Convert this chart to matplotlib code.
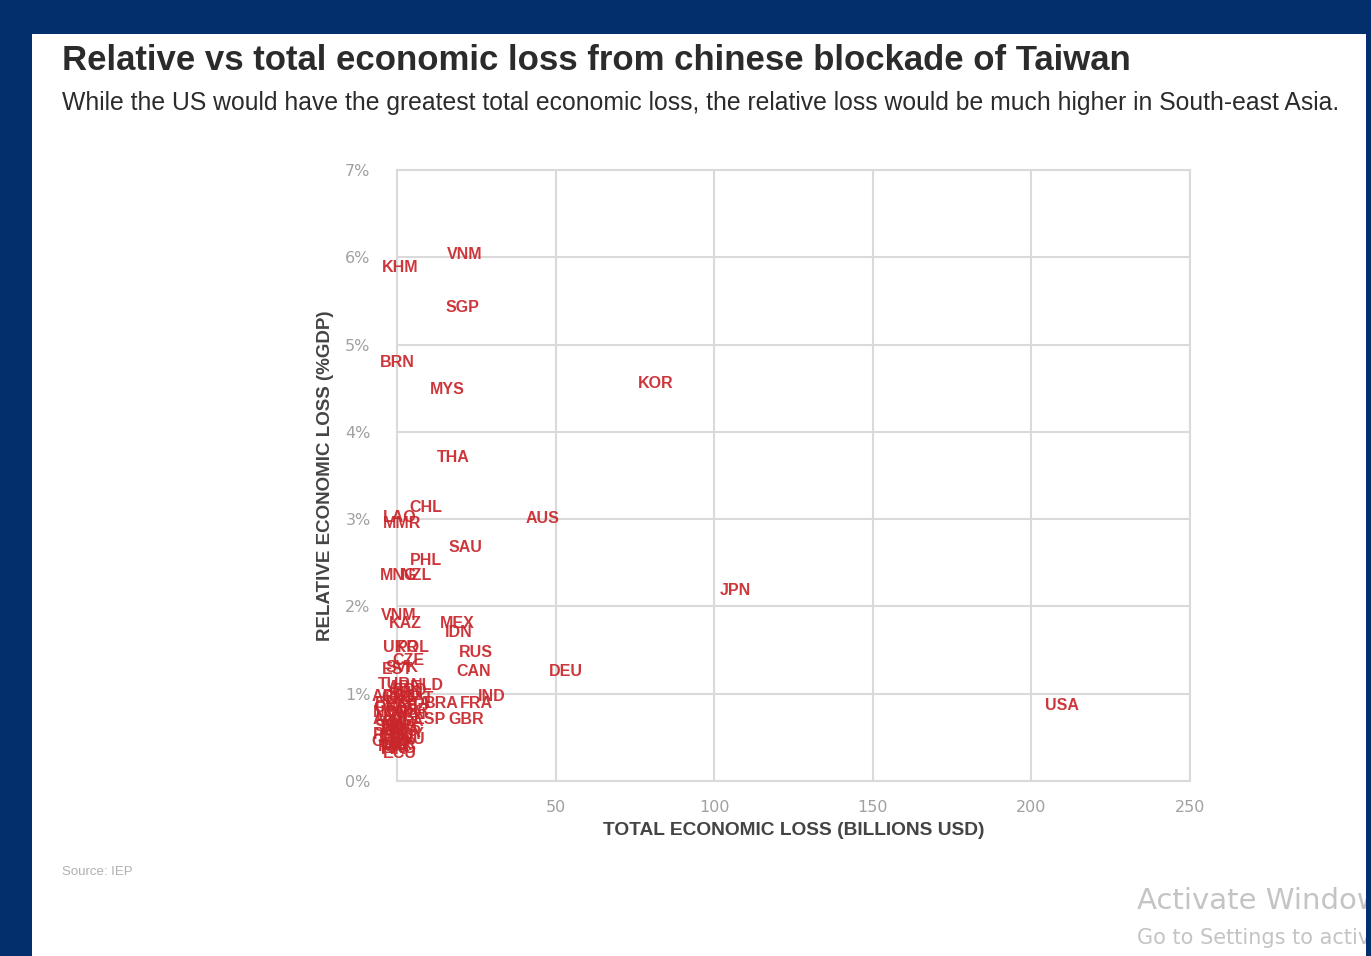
import matplotlib.pyplot as plt
from matplotlib.patches import Rectangle
from matplotlib.ticker import FuncFormatter

# datos (codigo de pais, perdida total en mil millones USD, perdida relativa en %PIB)
paises = ["KHM", "VNM", "SGP", "BRN", "MYS", "KOR", "THA", "CHL", "LAO", "MMR",
          "AUS", "SAU", "PHL", "MNG", "NZL", "JPN", "VNM", "KAZ", "MEX", "IDN",
          "UKR", "POL", "RUS", "CZE", "EST", "SVK", "CAN", "DEU", "TUR", "ARE",
          "NLD", "ARG", "CHE", "HUN", "IND", "BEL", "ZAF", "BRA", "FRA", "USA",
          "NOR", "DNK", "ISR", "AUT", "ESP", "GBR", "SWE", "IRL", "PRT", "COL",
          "EGY", "GRC", "PER", "ROU", "FIN", "HKG", "PAK", "ITA",
          "BGD", "QAT", "KWT", "OMN", "IRN", "IRQ", "DZA", "NGA", "LKA", "SVN",
          "LUX", "BLR", "URY", "ECU"]
perdida_total = [1.0, 21.5, 20.5, 0.0, 15.8, 81.4, 17.7, 9.1, 1.0, 1.5,
                 46.0, 21.5, 9.1, 0.5, 6.0, 106.6, 0.5, 2.5, 19.0, 19.5,
                 1.0, 5.0, 25.0, 3.5, 0.0, 1.5, 24.3, 53.3, -1.0, 2.5,
                 9.5, -2.5, 0.5, 3.0, 30.0, -2.0, 1.5, 14.0, 25.0, 209.5,
                 -2.0, 2.0, 6.0, -2.5, 10.5, 21.8, 0.5, -1.0, -2.5, 0.0,
                 3.5, -2.5, 1.0, 3.5, -1.0, 0.5, -1.0, 7.0,
                 4.0, 6.5, 1.0, -1.5, 5.0, 2.0, -0.5, 3.0, 1.5, -2.0,
                 0.0, 2.5, -1.5, 1.0]
perdida_relativa = [5.88, 6.03, 5.43, 4.79, 4.49, 4.55, 3.71, 3.13, 3.02, 2.95,
                    3.01, 2.68, 2.53, 2.35, 2.35, 2.18, 1.90, 1.80, 1.81, 1.70,
                    1.53, 1.53, 1.47, 1.38, 1.28, 1.30, 1.25, 1.26, 1.10, 1.07,
                    1.09, 0.97, 0.96, 1.00, 0.97, 0.89, 0.86, 0.89, 0.89, 0.87,
                    0.79, 0.78, 0.81, 0.70, 0.71, 0.71, 0.62, 0.58, 0.53, 0.50,
                    0.53, 0.45, 0.42, 0.47, 0.36, 0.37, 0.40, 0.89,
                    1.04, 0.95, 0.66, 0.84, 0.76, 0.60, 0.49, 0.68, 0.93, 0.63,
                    0.41, 0.56, 0.74, 0.31]

xticks = [50, 100, 150, 200, 250]
yticks = [0, 1, 2, 3, 4, 5, 6, 7]

azul = "#03306c"
rojo = "#c9262b"
gris = "#dadada"

fig = plt.figure(figsize=(13.71, 9.56), dpi=100)
fig.patch.set_facecolor(azul)

# panel blanco de la captura
fig.patches.append(Rectangle((32 / 1371, 0), (1366 - 32) / 1371, 1 - 34 / 956,
                             transform=fig.transFigure, facecolor="white",
                             edgecolor="none", zorder=0))

ax = fig.add_axes([397 / 1371, 1 - 781 / 956, (1190 - 397) / 1371, (781 - 170) / 956])
ax.set_zorder(2)
ax.set_facecolor("white")
ax.set_xlim(0, 250)
ax.set_ylim(0, 7)
ax.set_xticks(xticks)
ax.set_yticks(yticks)
ax.yaxis.set_major_formatter(FuncFormatter(lambda v, p: f"{v:.0f}%"))
ax.grid(True, color=gris, linewidth=1.5)
ax.set_axisbelow(True)
for s in ax.spines.values():
    s.set_color(gris)
    s.set_linewidth(1.5)
ax.tick_params(length=0, colors="#a0a0a0", labelsize=11.5)
ax.tick_params(axis="y", pad=19)
ax.tick_params(axis="x", pad=14)

for nombre, x, y in zip(paises, perdida_total, perdida_relativa):
    ax.text(x, y, nombre, color=rojo, fontsize=11.5, fontweight="bold",
            family="Liberation Sans", ha="center", va="center", alpha=0.92,
            clip_on=False)

ax.set_xlabel("TOTAL ECONOMIC LOSS (BILLIONS USD)", fontsize=13.8, fontweight="bold",
              color="#444444", family="Liberation Sans", labelpad=5)
ax.set_ylabel("RELATIVE ECONOMIC LOSS (%GDP)", fontsize=13.5, fontweight="bold",
              color="#444444", family="Liberation Sans", labelpad=8)

fig.text(62 / 1371, 1 - 60 / 956, "Relative vs total economic loss from chinese blockade of Taiwan",
         fontsize=25, fontweight="bold", color="#2b2b2b", family="Liberation Sans",
         ha="left", va="center")
fig.text(62 / 1371, 1 - 103 / 956,
         "While the US would have the greatest total economic loss, the relative loss would be much higher in South-east Asia.",
         fontsize=17.8, color="#2b2b2b", family="Liberation Sans", ha="left", va="center")
fig.text(62 / 1371, 1 - 872 / 956, "Source: IEP", fontsize=9.5, color="#b0b0b0",
         family="Liberation Sans", ha="left", va="center")

# marca de agua de windows
fig.text(1137 / 1371, 1 - 901 / 956, "Activate Windows", fontsize=21, color="#c4c4c4",
         family="DejaVu Sans", ha="left", va="center", zorder=1)
fig.text(1137 / 1371, 1 - 938 / 956, "Go to Settings to activate Windows.", fontsize=15,
         color="#c4c4c4", family="DejaVu Sans", ha="left", va="center", zorder=1)
fig.patches.append(Rectangle((1366 / 1371, 0), 5 / 1371, 1, transform=fig.transFigure,
                             facecolor=azul, edgecolor="none", zorder=5))

fig.savefig("out.png", dpi=100, facecolor=fig.get_facecolor())
